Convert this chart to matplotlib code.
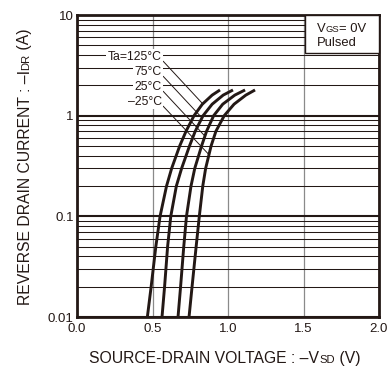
import matplotlib
matplotlib.use("Agg")
import matplotlib.pyplot as plt
from matplotlib.ticker import FixedLocator, LogLocator, NullFormatter
from matplotlib.patches import Rectangle

plt.rcParams['font.family'] = ['Liberation Sans', 'DejaVu Sans']

# Reverse drain current (A) at which each curve was read
current = [0.01, 0.02, 0.05, 0.1, 0.2, 0.3, 0.5, 0.7, 1.0, 1.3, 1.6, 1.8]

# Source-drain voltage (V) for each ambient temperature
vsd_125 = [0.466, 0.491, 0.522, 0.550, 0.593, 0.627, 0.680, 0.722, 0.775, 0.830, 0.895, 0.947]
vsd_75 = [0.563, 0.580, 0.600, 0.621, 0.658, 0.693, 0.745, 0.783, 0.835, 0.895, 0.968, 1.033]
vsd_25 = [0.669, 0.686, 0.707, 0.725, 0.755, 0.780, 0.825, 0.858, 0.905, 0.965, 1.045, 1.113]
vsd_m25 = [0.742, 0.762, 0.789, 0.810, 0.833, 0.852, 0.888, 0.920, 0.975, 1.040, 1.118, 1.179]

temp_labels = ["Ta=125°C", "75°C", "25°C", "–25°C"]
series = [vsd_125, vsd_75, vsd_25, vsd_m25]

x_ticks = [0.0, 0.5, 1.0, 1.5, 2.0]
x_ticklabels = ["0.0", "0.5", "1.0", "1.5", "2.0"]
y_ticks = [0.01, 0.1, 1, 10]
y_ticklabels = ["0.01", "0.1", "1", "10"]

INK = "#231815"

fig = plt.figure(figsize=(3.92, 3.69), dpi=100)
W, H = 392, 369
ax = fig.add_axes([77 / W, 1 - 317 / H, 302 / W, 302 / H])

ax.set_yscale("log")
ax.set_xlim(0, 2)
ax.set_ylim(0.01, 10)

ax.xaxis.set_major_locator(FixedLocator(x_ticks))
ax.set_xticklabels(x_ticklabels)
ax.yaxis.set_major_locator(FixedLocator(y_ticks))
ax.set_yticklabels(y_ticklabels)
ax.yaxis.set_minor_locator(LogLocator(base=10, subs=range(2, 10)))
ax.yaxis.set_minor_formatter(NullFormatter())
ax.tick_params(which="both", length=0, labelsize=9.5, colors="#231815")
ax.tick_params(axis="x", pad=4)
ax.tick_params(axis="y", pad=2.5)

ax.set_axisbelow(True)
ax.grid(axis="x", which="major", color="#8a8a8a", lw=0.9)
ax.grid(axis="y", which="major", color=INK, lw=1.5)
ax.grid(axis="y", which="minor", color=INK, lw=0.75)

for s in ax.spines.values():
    s.set_linewidth(2.0)
    s.set_color(INK)

for v in series:
    ax.plot(v, current, color=INK, lw=2.1, solid_capstyle="butt",
            solid_joinstyle="round", zorder=3)

# Temperature labels with leader lines to their curves
label_pos = [(0.561, 3.60), (0.561, 2.55), (0.561, 1.81), (0.561, 1.286)]
leader_end = [(0.835, 1.30), (0.828, 0.95), (0.850, 0.62), (0.874, 0.41)]
for txt, (lx, ly), (ex, ey) in zip(temp_labels, label_pos, leader_end):
    ax.annotate(txt, xy=(ex, ey), xytext=(lx, ly), textcoords="data",
                ha="right", va="baseline", fontsize=8.8, color=INK,
                bbox=dict(boxstyle="square,pad=0.12", fc="white", ec="none"),
                arrowprops=dict(arrowstyle="-", color=INK, lw=0.7,
                                shrinkA=0, shrinkB=0, relpos=(1.0, 0.25)),
                zorder=4)

# Condition box in the upper right corner
ax.add_patch(Rectangle((0.755, 0.874), 0.245, 0.126, transform=ax.transAxes,
                       fc="white", ec=INK, lw=1.0, zorder=5, clip_on=False))

renderer = fig.canvas.get_renderer()


def place_pieces(pieces, x0, y0, rotation=0):
    """Lay out text pieces of different sizes on a common baseline (pixel coords)."""
    px, py = x0, y0
    for text, size in pieces:
        t = fig.text(px / W, py / H, text, fontsize=size, color=INK,
                     rotation=rotation, rotation_mode="anchor",
                     ha="left", va="baseline", zorder=6)
        bb = t.get_window_extent(renderer)
        if rotation == 0:
            px += bb.width
        else:
            py += bb.height


big = 11.3
small = big * 0.72
place_pieces([("SOURCE-DRAIN VOLTAGE : –V", big), ("SD", small), (" (V)", big)],
             89, 369 - 363)
place_pieces([("REVERSE DRAIN CURRENT : –I", big), ("DR", small), (" (A)", big)],
             29.5, 369 - 305, rotation=90)

bs = 9.4
place_pieces([("V", bs), ("GS", bs * 0.72), ("= 0V", bs)], 316.5, 369 - 32)
place_pieces([("Pulsed", bs)], 316.5, 369 - 46)

fig.savefig("out.png", dpi=100)
